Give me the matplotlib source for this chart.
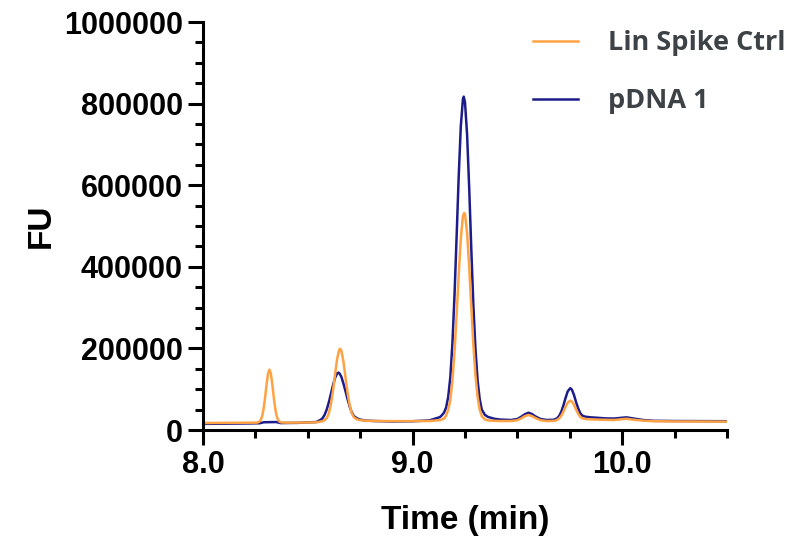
import matplotlib
matplotlib.use('Agg')
from matplotlib import pyplot as plt
from matplotlib.ticker import MultipleLocator

# Lin Spike Ctrl trace (time in min, fluorescence units)
lin_time = [8.00, 8.10, 8.20, 8.254, 8.261, 8.268, 8.275, 8.282, 8.289, 8.296,
            8.303, 8.310, 8.317, 8.324, 8.331, 8.338, 8.345, 8.352, 8.359, 8.366,
            8.373, 8.40, 8.48, 8.54, 8.57, 8.58, 8.59, 8.60, 8.61, 8.62,
            8.63, 8.64, 8.65, 8.654, 8.66, 8.67, 8.68, 8.69, 8.70, 8.71,
            8.72, 8.735, 8.75, 8.78, 8.82, 8.90, 9.00, 9.08, 9.13, 9.14,
            9.15, 9.16, 9.17, 9.18, 9.19, 9.20, 9.21, 9.22, 9.23, 9.24,
            9.246, 9.25, 9.26, 9.27, 9.28, 9.29, 9.30, 9.31, 9.32, 9.33,
            9.345, 9.36, 9.39, 9.42, 9.47, 9.50, 9.52, 9.535, 9.553, 9.57,
            9.585, 9.61, 9.64, 9.67, 9.68, 9.69, 9.70, 9.71, 9.72, 9.73,
            9.74, 9.752, 9.76, 9.77, 9.78, 9.79, 9.80, 9.81, 9.825, 9.85,
            9.88, 9.92, 9.96, 9.99, 10.02, 10.05, 10.10, 10.15, 10.25, 10.50]
lin_fu = [17000, 17500, 17800, 18000, 18500, 20000, 24100, 33600, 51400, 78600,
          110700, 137500, 148000, 137500, 110700, 78600, 51400, 33600, 24100, 20000,
          18500, 18000, 18200, 18800, 21500, 24000, 29000, 39700, 62200, 95500,
          136500, 174700, 196800, 199000, 194300, 167900, 128000, 90000, 60000, 41000,
          31000, 26000, 24000, 22800, 22000, 21800, 21800, 22000, 24000, 26000,
          28000, 35300, 49700, 73700, 120800, 192000, 282000, 381000, 469000, 523800,
          532000, 529000, 483000, 400000, 301600, 208000, 133600, 82000, 50000, 34000,
          26000, 23500, 22500, 22000, 22000, 24000, 29000, 33800, 36800, 34000,
          29500, 24000, 22000, 22300, 23000, 25000, 28800, 35500, 45500, 57000,
          67000, 72000, 69700, 61400, 50000, 39500, 32000, 28500, 27000, 26000,
          25500, 25000, 24500, 26000, 27500, 25500, 23000, 21500, 21000, 20500]

# pDNA 1 trace
pdna_time = [8.00, 8.10, 8.20, 8.27, 8.29, 8.35, 8.37, 8.45, 8.54, 8.56,
             8.57, 8.58, 8.59, 8.60, 8.61, 8.62, 8.63, 8.64, 8.646, 8.65,
             8.66, 8.67, 8.68, 8.69, 8.70, 8.71, 8.72, 8.735, 8.75, 8.78,
             8.82, 8.90, 9.00, 9.08, 9.13, 9.14, 9.15, 9.16, 9.17, 9.18,
             9.19, 9.20, 9.21, 9.22, 9.23, 9.24, 9.244, 9.25, 9.26, 9.27,
             9.28, 9.29, 9.30, 9.31, 9.32, 9.33, 9.345, 9.36, 9.39, 9.42,
             9.47, 9.50, 9.52, 9.535, 9.553, 9.57, 9.585, 9.61, 9.64, 9.67,
             9.68, 9.69, 9.70, 9.71, 9.72, 9.73, 9.74, 9.752, 9.76, 9.77,
             9.78, 9.79, 9.80, 9.81, 9.825, 9.85, 9.88, 9.92, 9.96, 9.99,
             10.02, 10.05, 10.10, 10.15, 10.25, 10.50]
pdna_fu = [15000, 15500, 16000, 16500, 19000, 19500, 17000, 17500, 19500, 24500,
           28500, 37000, 49800, 67300, 88000, 109500, 127700, 138700, 140500, 139600,
           130600, 113700, 95000, 75000, 57000, 43000, 34000, 28500, 25500, 23000,
           22000, 21000, 21500, 23500, 31500, 36300, 42700, 55400, 81600, 129300,
           212800, 331000, 474000, 622000, 744600, 810600, 817000, 803500, 723600, 593600,
           444000, 305000, 198000, 122000, 76000, 50000, 37000, 32000, 27500, 25500,
           24500, 27000, 33000, 38500, 42400, 39000, 33500, 27000, 24500, 25000,
           26200, 29100, 35000, 45600, 61100, 79000, 94600, 102500, 98900, 85900,
           68200, 53000, 41000, 35000, 32500, 31000, 30000, 28500, 28000, 29500,
           31000, 28500, 24500, 22500, 22000, 21500]

x_ticks = [8.0, 9.0, 10.0]
y_ticks = [0, 200000, 400000, 600000, 800000, 1000000]

plt.rcParams['font.family'] = ['Liberation Sans', 'DejaVu Sans']
plt.rcParams['font.weight'] = 'bold'

fig = plt.figure(figsize=(7.95, 5.39), dpi=100)
ax = fig.add_axes([203 / 795, 1 - 430 / 539, 524 / 795, 408 / 539])

ln_dna, = ax.plot(pdna_time, pdna_fu, color='#1c1c8a', lw=1.8, label='pDNA 1')
ln_lin, = ax.plot(lin_time, lin_fu, color='#ffa244', lw=1.8, label='Lin Spike Ctrl')

ax.set_xlim(8.0, 10.5)
ax.set_ylim(0, 1000000)
ax.set_xticks(x_ticks)
ax.set_xticklabels([f'{t:.1f}' for t in x_ticks])
ax.set_yticks(y_ticks)
ax.set_yticklabels([str(v) for v in y_ticks])
ax.xaxis.set_minor_locator(MultipleLocator(0.25))
ax.yaxis.set_minor_locator(MultipleLocator(50000))

for side in ['top', 'right']:
    ax.spines[side].set_visible(False)
for side in ['left', 'bottom']:
    ax.spines[side].set_linewidth(2.2)

ax.tick_params(which='major', length=10.5, width=2.2, labelsize=22, pad=4)
ax.tick_params(which='minor', length=5.5, width=2.2)
for lab in ax.get_xticklabels() + ax.get_yticklabels():
    lab.set_fontweight('bold')

ax.set_xlabel('Time (min)', fontsize=24, fontweight='bold', labelpad=18)
ax.set_ylabel('FU', fontsize=24, fontweight='bold', labelpad=5)

# legend, no frame, top right
leg = ax.legend(handles=[ln_lin, ln_dna], loc='upper left', bbox_to_anchor=(0.63, 0.98),
                frameon=False, borderpad=0, borderaxespad=0,
                handlelength=1.65, handletextpad=1.1, labelspacing=1.18,
                prop={'family': 'Open Sans', 'weight': 'bold', 'size': 19.5},
                labelcolor='#3d4246')

plt.savefig('out.png', dpi=100)
